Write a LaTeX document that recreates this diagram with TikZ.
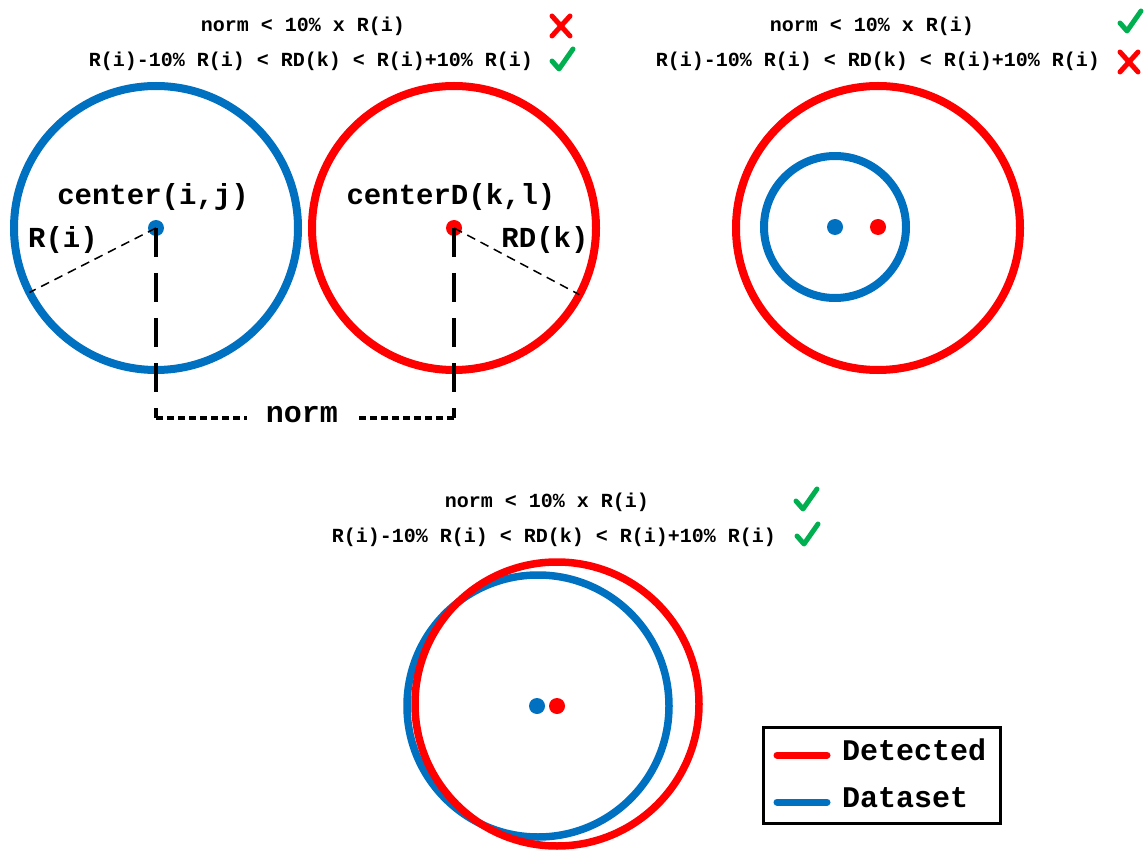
\documentclass[tikz,border=0pt]{standalone}
\usepackage{fontspec}
\newfontfamily\monofam{Liberation Mono}
\definecolor{dsblue}{RGB}{0,112,192}
\definecolor{dtred}{RGB}{255,0,0}
\definecolor{okgreen}{RGB}{0,176,80}
\tikzset{
  ring/.style={circle, draw, line width=8pt, inner sep=0pt, outer sep=0pt, minimum size=#1},
  ctr/.style={circle, inner sep=0pt, outer sep=0pt, minimum size=16pt},
  cond/.style={font=\monofam\bfseries\fontsize{20}{24}\selectfont, anchor=base, inner sep=0pt},
  biglabel/.style={font=\monofam\bfseries\fontsize{29}{34}\selectfont, anchor=base, inner sep=0pt},
  radius line/.style={draw=black, line width=1.5pt, dash pattern=on 9pt off 6pt},
  vdash/.style={draw=black, line width=3.5pt, dash pattern=on 29pt off 16pt},
  hdot/.style={draw=black, line width=3.5pt, dash pattern=on 7pt off 4pt},
  legline/.style={line width=7pt, line cap=round},
  okmark/.pic={\draw[okgreen, line width=5pt, line cap=round, line join=round]
      (-10,1) -- (-3,9) -- (11,-11);},
  nomark/.pic={\draw[dtred, line width=5pt, line cap=round]
      (-9,-10) -- (9,10) (-9,10) -- (9,-10);}
}
\begin{document}
\begin{tikzpicture}[x=1pt, y=-1pt]
\useasboundingbox (0,0) rectangle (1146,850);

% ---------- case 1: centres too far apart ----------
\node[cond] (c1a) at (303,32) {norm < 10\% x R(i)};
\node[cond] (c1b) at (311,67) {R(i)-10\% R(i) < RD(k) < R(i)+10\% R(i)};
\pic at (561,26) {nomark};
\pic at (562,60) {okmark};

\node[ring=284pt, draw=dsblue] (ds1) at (156,228) {};
\node[ring=284pt, draw=dtred] (dt1) at (454,228) {};
\node[ctr, fill=dsblue] (c1) at (156,228) {};
\node[ctr, fill=dtred] (c2) at (454,228) {};

\node[biglabel] (lc1) at (153,205) {center(i,j)};
\node[biglabel] (lc2) at (451,205) {centerD(k,l)};
\node[biglabel] (lr1) at (63,248) {R(i)};
\node[biglabel] (lr2) at (545,248) {RD(k)};

\draw[radius line] (c1.center) -- (ds1.207);
\draw[radius line] (c2.center) -- (dt1.332);

\node[biglabel, font=\monofam\bfseries\fontsize{30}{34}\selectfont, inner xsep=19pt] (nrm) at (302,422) {norm};
\coordinate (b1) at (156,418);
\coordinate (b2) at (454,418);
\draw[vdash] (c1.center) -- (b1);
\draw[vdash] (c2.center) -- (b2);
\draw[hdot] (b1) -- (b1 -| nrm.west);
\draw[hdot] (b2) -- (b2 -| nrm.east);

% ---------- case 2: radii too different ----------
\node[cond] (c2a) at (872,32) {norm < 10\% x R(i)};
\node[cond] (c2b) at (878,67) {R(i)-10\% R(i) < RD(k) < R(i)+10\% R(i)};
\pic at (1130,22) {okmark};
\pic at (1129,62) {nomark};

\node[ring=284pt, draw=dtred] (dt2) at (878,228) {};
\node[ring=142pt, draw=dsblue] (ds2) at (835,227) {};
\node[ctr, fill=dsblue] (c3) at (835,227) {};
\node[ctr, fill=dtred] (c4) at (878,227) {};

% ---------- case 3: match ----------
\node[cond] (c3a) at (547,507) {norm < 10\% x R(i)};
\node[cond] (c3b) at (554,542) {R(i)-10\% R(i) < RD(k) < R(i)+10\% R(i)};
\pic at (806,500) {okmark};
\pic at (807,535) {okmark};

\node[ring=262pt, draw=dsblue, line width=7.5pt] (ds3) at (538,706) {};
\node[ring=284pt, draw=dtred, line width=7.5pt] (dt3) at (557,704) {};
\node[ctr, fill=dsblue] (c5) at (537,706) {};
\node[ctr, fill=dtred] (c6) at (557,706) {};

% ---------- legend ----------
\node[draw=black, line width=3pt, minimum width=237pt, minimum height=96pt, inner sep=0pt] (legend) at (881.5,775) {};
\coordinate (lg1a) at (777,755);
\coordinate (lg1b) at (827,755);
\coordinate (lg2a) at (777,802);
\coordinate (lg2b) at (827,802);
\draw[legline, dtred] (lg1a) -- (lg1b);
\draw[legline, dsblue] (lg2a) -- (lg2b);
\node[biglabel, font=\monofam\bfseries\fontsize{30}{34}\selectfont, anchor=base west] (ltx1) at (842,760) {Detected};
\node[biglabel, font=\monofam\bfseries\fontsize{30}{34}\selectfont, anchor=base west] (ltx2) at (842,807) {Dataset};
\end{tikzpicture}
\end{document}
